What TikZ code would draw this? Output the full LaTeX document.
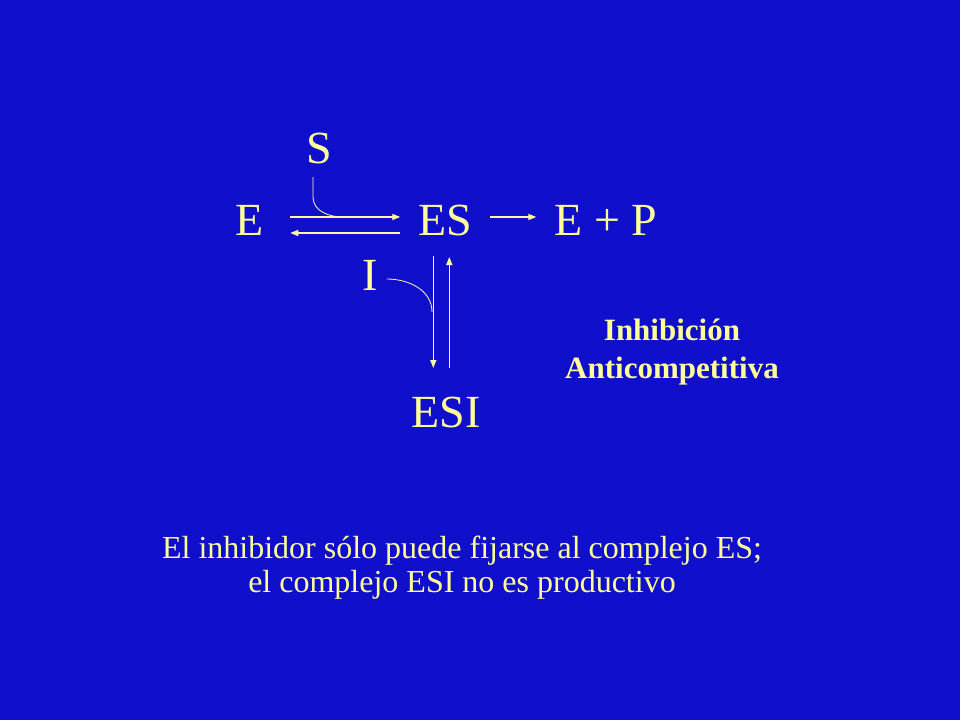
\documentclass[tikz,border=0pt]{standalone}
\usepackage{fontspec}
\setmainfont{Liberation Serif}
\usetikzlibrary{positioning, arrows.meta}
\definecolor{slideblue}{RGB}{16,16,204}
\definecolor{paleyellow}{RGB}{255,255,153}

\tikzset{
    species/.style={text=paleyellow, inner sep=0pt, font=\fontsize{46}{50}\selectfont},
    react/.style={draw=paleyellow, line width=1.4pt, -{Triangle[length=8pt,width=6pt]}},
    joining/.style={draw=paleyellow, line width=0.8pt}
}

\begin{document}
\begin{tikzpicture}[x=1pt, y=-1pt]

\useasboundingbox[fill=slideblue] (0,0) rectangle (960,720);

\node[species, anchor=base] (E) at (250,235) {E};
\node[species, base right=154pt of E] (ES) {ES};
\node[species, base right=82pt of ES] (EP) {E + P};
\node[species, anchor=base] (S) at (319,163) {S};
\node[species, anchor=base] (I) at (370,290) {I};
\node[species, anchor=base] (ESI) at (446,427) {ESI};

% forward and back
\draw[react] ([xshift=26pt,yshift=18pt]E.base east) -- ([xshift=-18pt,yshift=18pt]ES.base west);
\draw[react] ([xshift=-18pt,yshift=2pt]ES.base west) -- ([xshift=26pt,yshift=2pt]E.base east);
\draw[react] ([xshift=18pt,yshift=18pt]ES.base east) -- ([xshift=-18pt,yshift=18pt]EP.base west);

% binding of I
\draw[react] ([xshift=-12pt,yshift=-21pt]ES.base) -- ([xshift=-12pt,yshift=59pt]ESI.base -| ES.base);
\draw[react] ([xshift=4pt,yshift=59pt]ESI.base -| ES.base) -- ([xshift=4pt,yshift=-22pt]ES.base);

\coordinate (Sjoin) at (343,217);
\coordinate (Ijoin) at (432,312);
\draw[joining] ([xshift=-6pt,yshift=-14pt]S.base) -- ++(0,20) to[out=-90,in=180] (Sjoin);
\draw[joining] ([xshift=9pt,yshift=11pt]I.base east) to[out=0,in=90] (Ijoin);

\node[text=paleyellow, font=\fontsize{31}{38}\selectfont\bfseries] (tipo) at (672,352) {
    \begin{tabular}{@{}c@{}}
    Inhibición\\
    Anticompetitiva
    \end{tabular}
};

\node[text=paleyellow, font=\fontsize{32}{34}\selectfont] (nota) at (462,569) {
    \begin{tabular}{@{}c@{}}
    El inhibidor sólo puede fijarse al complejo ES;\\
    el complejo ESI no es productivo
    \end{tabular}
};

\end{tikzpicture}
\end{document}
